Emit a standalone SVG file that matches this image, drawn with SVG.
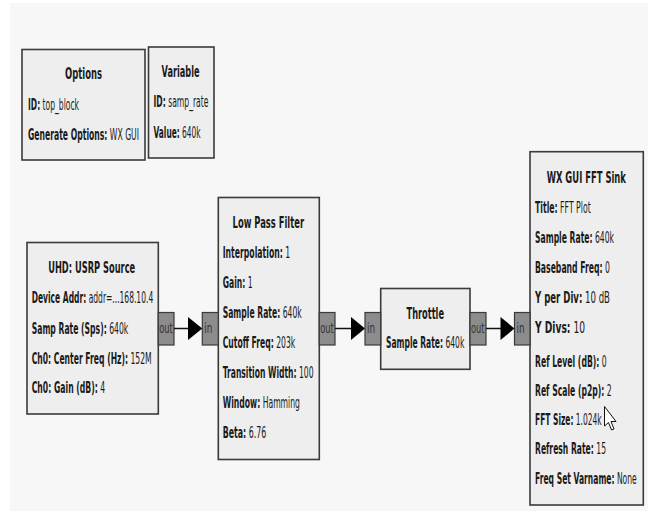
<svg xmlns="http://www.w3.org/2000/svg" width="653" height="514" viewBox="0 0 653 514">
<style>
.bg{fill:#f7f7f7}
.blk{fill:#eeeeee;stroke:#3a3a3a;stroke-width:1.6}
.port{fill:#8c8c8c;stroke:#3a3a3a;stroke-width:1.2}
text{font-family:"DejaVu Sans","Liberation Sans",sans-serif;font-size:16px;fill:#1a1a1a}
.t{font-weight:bold;text-anchor:middle}
.b{font-weight:bold}
.pt{font-size:14px;fill:#333}
.wire{stroke:#111;stroke-width:1.5;fill:none}
.head{fill:#000}
</style>
<rect width="653" height="514" fill="#ffffff"/>
<rect class="bg" x="10" y="3" width="638" height="508"/>

<g id="options">
<rect class="blk" x="22" y="49.5" width="123" height="110.5"/>
<g transform="scale(0.5,1)">
<text class="t" x="167" y="79" textLength="74" lengthAdjust="spacingAndGlyphs">Options</text>
<text x="56" y="110.5" textLength="102" lengthAdjust="spacingAndGlyphs"><tspan class="b">ID:</tspan> top_block</text>
<text x="56" y="140" textLength="222" lengthAdjust="spacingAndGlyphs"><tspan class="b">Generate Options:</tspan> WX GUI</text>
</g>
</g>

<g id="variable">
<rect class="blk" x="148.5" y="47" width="65.5" height="111"/>
<g transform="scale(0.5,1)">
<text class="t" x="361" y="77.5" textLength="76" lengthAdjust="spacingAndGlyphs">Variable</text>
<text x="307" y="107.5" textLength="110" lengthAdjust="spacingAndGlyphs"><tspan class="b">ID:</tspan> samp_rate</text>
<text x="307" y="138" textLength="94" lengthAdjust="spacingAndGlyphs"><tspan class="b">Value:</tspan> 640k</text>
</g>
</g>

<g id="usrp_source">
<rect class="blk" x="27" y="242.5" width="131.3" height="171.5"/>
<rect class="port" x="158.3" y="312.5" width="15.7" height="32.5"/>
<g transform="scale(0.5,1)">
<text class="t" x="183.4" y="273.5" textLength="174" lengthAdjust="spacingAndGlyphs">UHD: USRP Source</text>
<text x="63.4" y="303.5" textLength="243" lengthAdjust="spacingAndGlyphs"><tspan class="b">Device Addr:</tspan> addr=...168.10.4</text>
<text x="63.4" y="334.3" textLength="193" lengthAdjust="spacingAndGlyphs"><tspan class="b">Samp Rate (Sps):</tspan> 640k</text>
<text x="63.4" y="364.5" textLength="240" lengthAdjust="spacingAndGlyphs"><tspan class="b">Ch0: Center Freq (Hz):</tspan> 152M</text>
<text x="63.4" y="393.5" textLength="147" lengthAdjust="spacingAndGlyphs"><tspan class="b">Ch0: Gain (dB):</tspan> 4</text>
<text class="pt" x="318.6" y="333.5" textLength="27" lengthAdjust="spacingAndGlyphs">out</text>
</g>
</g>

<g id="low_pass_filter">
<rect class="blk" x="218.3" y="197.5" width="101" height="262"/>
<rect class="port" x="202.3" y="312.5" width="16" height="32.5"/>
<rect class="port" x="319.3" y="312.5" width="15.7" height="32.5"/>
<g transform="scale(0.5,1)">
<text class="t" x="536.6" y="228.3" textLength="143" lengthAdjust="spacingAndGlyphs">Low Pass Filter</text>
<text x="445.4" y="258.3" textLength="135" lengthAdjust="spacingAndGlyphs"><tspan class="b">Interpolation:</tspan> 1</text>
<text x="445.4" y="288.3" textLength="60" lengthAdjust="spacingAndGlyphs"><tspan class="b">Gain:</tspan> 1</text>
<text x="445.4" y="318.3" textLength="158" lengthAdjust="spacingAndGlyphs"><tspan class="b">Sample Rate:</tspan> 640k</text>
<text x="445.4" y="348.3" textLength="145" lengthAdjust="spacingAndGlyphs"><tspan class="b">Cutoff Freq:</tspan> 203k</text>
<text x="445.4" y="378.3" textLength="181.6" lengthAdjust="spacingAndGlyphs"><tspan class="b">Transition Width:</tspan> 100</text>
<text x="445.4" y="408.3" textLength="154.6" lengthAdjust="spacingAndGlyphs"><tspan class="b">Window:</tspan> Hamming</text>
<text x="445.4" y="438.3" textLength="87" lengthAdjust="spacingAndGlyphs"><tspan class="b">Beta:</tspan> 6.76</text>
<text class="pt" x="408.6" y="333.5" textLength="16" lengthAdjust="spacingAndGlyphs">in</text>
<text class="pt" x="640.6" y="333.5" textLength="27" lengthAdjust="spacingAndGlyphs">out</text>
</g>
</g>

<g id="throttle">
<rect class="blk" x="380.7" y="288.5" width="89.3" height="80.8"/>
<rect class="port" x="365" y="312.5" width="15.7" height="32.5"/>
<rect class="port" x="470" y="312.5" width="16" height="32.5"/>
<g transform="scale(0.5,1)">
<text class="t" x="850.6" y="319.3" textLength="75" lengthAdjust="spacingAndGlyphs">Throttle</text>
<text x="772" y="348.3" textLength="156.6" lengthAdjust="spacingAndGlyphs"><tspan class="b">Sample Rate:</tspan> 640k</text>
<text class="pt" x="734" y="333.5" textLength="16" lengthAdjust="spacingAndGlyphs">in</text>
<text class="pt" x="942" y="333.5" textLength="27" lengthAdjust="spacingAndGlyphs">out</text>
</g>
</g>

<g id="fft_sink">
<rect class="blk" x="530" y="151.7" width="113.3" height="353.3"/>
<rect class="port" x="514.5" y="312.5" width="15.5" height="32.5"/>
<g transform="scale(0.5,1)">
<text class="t" x="1172.6" y="182.7" textLength="158.6" lengthAdjust="spacingAndGlyphs">WX GUI FFT Sink</text>
<text x="1070" y="213.3" textLength="111.4" lengthAdjust="spacingAndGlyphs"><tspan class="b">Title:</tspan> FFT Plot</text>
<text x="1070" y="243.3" textLength="158" lengthAdjust="spacingAndGlyphs"><tspan class="b">Sample Rate:</tspan> 640k</text>
<text x="1070" y="273.3" textLength="150" lengthAdjust="spacingAndGlyphs"><tspan class="b">Baseband Freq:</tspan> 0</text>
<text x="1070" y="303.3" textLength="150" lengthAdjust="spacingAndGlyphs"><tspan class="b">Y per Div:</tspan> 10 dB</text>
<text x="1070" y="333.3" textLength="100" lengthAdjust="spacingAndGlyphs"><tspan class="b">Y Divs:</tspan> 10</text>
<text x="1070" y="366.7" textLength="143.4" lengthAdjust="spacingAndGlyphs"><tspan class="b">Ref Level (dB):</tspan> 0</text>
<text x="1070" y="396" textLength="153.4" lengthAdjust="spacingAndGlyphs"><tspan class="b">Ref Scale (p2p):</tspan> 2</text>
<text x="1070" y="425" textLength="133.4" lengthAdjust="spacingAndGlyphs"><tspan class="b">FFT Size:</tspan> 1.024k</text>
<text x="1070" y="454" textLength="142" lengthAdjust="spacingAndGlyphs"><tspan class="b">Refresh Rate:</tspan> 15</text>
<text x="1070" y="484" textLength="203.4" lengthAdjust="spacingAndGlyphs"><tspan class="b">Freq Set Varname:</tspan> None</text>
<text class="pt" x="1033" y="333.5" textLength="16" lengthAdjust="spacingAndGlyphs">in</text>
</g>
</g>

<g id="connectors">
<line class="wire" x1="174" y1="328.5" x2="189" y2="328.5"/>
<polygon class="head" points="188,317 202.3,328.5 188,340"/>
<line class="wire" x1="335" y1="328.5" x2="352" y2="328.5"/>
<polygon class="head" points="351,317 365,328.5 351,340"/>
<line class="wire" x1="486" y1="328.5" x2="501" y2="328.5"/>
<polygon class="head" points="500.5,317 514.5,328.5 500.5,340"/>
</g>

<g id="cursor">
<polygon points="604.5,406.5 604.5,426 608.5,422.5 611.5,430 614,429 611,421.5 616,421.5" fill="#ffffff" stroke="#111" stroke-width="1"/>
</g>
</svg>
